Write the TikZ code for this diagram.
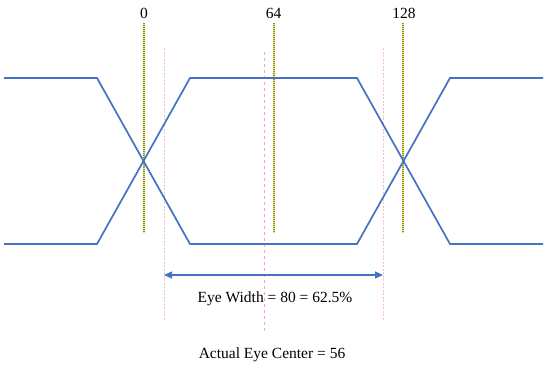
\documentclass[tikz,border=0pt]{standalone}
\usepackage{fontspec}
\setmainfont{Liberation Serif}
\usetikzlibrary{arrows.meta}
\definecolor{wave}{HTML}{4472C4}
\definecolor{yel}{HTML}{E8E870}
\definecolor{olv}{HTML}{8A8A28}
\definecolor{pnk}{HTML}{F2BCCA}
\definecolor{mag}{HTML}{F49AF4}
\begin{document}
\begin{tikzpicture}[x=1pt,y=-1pt,
  wavestyle/.style={draw=wave,line width=1.7pt,line join=miter},
  lbl/.style={font=\fontsize{15.5}{18}\selectfont,anchor=base,inner sep=0pt},
  yelbase/.style={draw=yel,line width=1.2pt},
  yeldots/.style={draw=olv,line width=1.2pt,dash pattern=on 1pt off 1pt},
  pinkline/.style={draw=pnk,line width=1pt,dash pattern=on 2pt off 1.5pt},
  magline/.style={draw=mag,line width=0.9pt,dash pattern=on 3pt off 3pt}]
\useasboundingbox (0,0) rectangle (550,368);
% reference lines
\coordinate (y0t) at (144,23); \coordinate (y0b) at (144,233);
\coordinate (y1t) at (274,23); \coordinate (y1b) at (274,233);
\coordinate (y2t) at (403,23); \coordinate (y2b) at (403,233);
\foreach \a/\b in {y0t/y0b,y1t/y1b,y2t/y2b}{
  \draw[yelbase] (\a) -- (\b);
  \draw[yeldots] (\a) -- (\b);
}
\coordinate (p1t) at (164.5,48); \coordinate (p1b) at (164.5,320);
\coordinate (p2t) at (383.5,48); \coordinate (p2b) at (383.5,320);
\draw[pinkline] (p1t) -- (p1b);
\draw[pinkline] (p2t) -- (p2b);
\coordinate (mt) at (264.5,52); \coordinate (mb) at (264.5,331);
\draw[magline] (mt) -- (mb);
% waveform
\draw[wavestyle] (4,78) -- (97,78) -- (190,244) -- (357,244) -- (450,78) -- (543,78);
\draw[wavestyle] (4,244) -- (97,244) -- (190,78) -- (357,78) -- (450,244) -- (543,244);
% labels
\node[lbl] (l0) at (144,18) {0};
\node[lbl] (l64) at (273.5,18) {64};
\node[lbl] (l128) at (404,18) {128};
% eye width arrow
\coordinate (aw1) at (164,275);
\coordinate (aw2) at (383,275);
\draw[draw=wave,line width=1.2pt,{Triangle[length=8pt,width=7pt]}-{Triangle[length=8pt,width=7pt]}] (aw1) -- (aw2);
\node[lbl] (ew) at (275,302) {Eye Width = 80 = 62.5\%};
\node[lbl] (ec) at (272,358) {Actual Eye Center = 56};
\end{tikzpicture}
\end{document}
